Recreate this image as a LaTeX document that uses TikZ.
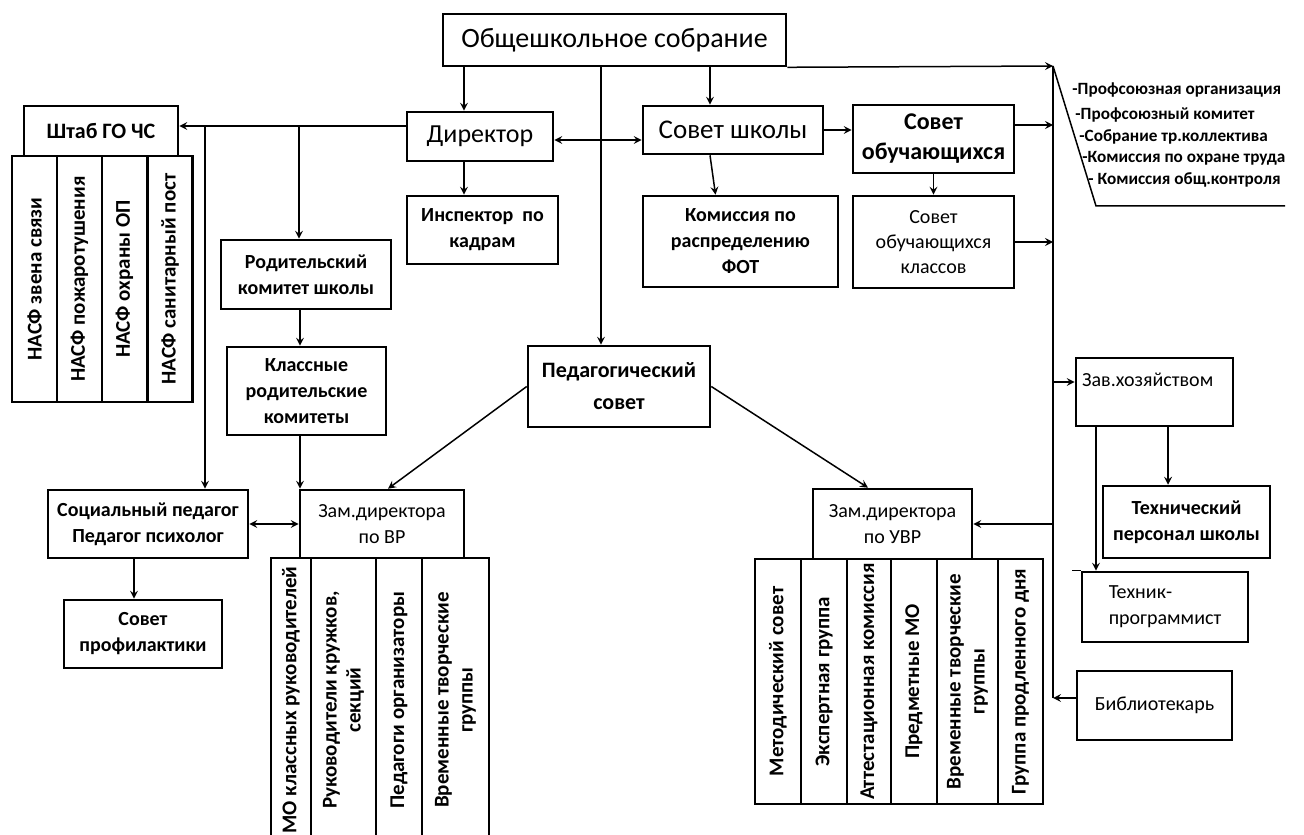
\documentclass[tikz,border=0pt]{standalone}
\usepackage{fontspec}
\setmainfont{Carlito}
\usetikzlibrary{positioning,calc}

\begin{document}
\begin{tikzpicture}[>=stealth, x=0.5pt, y=-0.5pt]

    % Styles
    \tikzset{
        box/.style={draw, line width=1.3pt, align=center, inner sep=2pt, font=\fontsize{10}{13}\selectfont},
        bbox/.style={box, font=\bfseries\fontsize{10}{13}\selectfont},
        col/.style={draw, line width=1.3pt, rotate=90, align=center, inner sep=1pt, font=\bfseries\fontsize{10.5}{12}\selectfont},
        sz/.style 2 args={minimum width=#1*0.5pt, minimum height=#2*0.5pt},
        link/.style={line width=0.75pt},
        item/.style={anchor=west, inner sep=0pt, font=\bfseries\fontsize{8.6}{10}\selectfont}
    }

    \useasboundingbox (0,0) rectangle (1304,834);

    % Top row
    \node[box, sz={343}{52}, font=\fontsize{14}{16}\selectfont] (obsh) at (614.5,40) {Общешкольное собрание};
    \node[box, sz={146}{49}, font=\fontsize{13}{16}\selectfont] (dir) at (480,136.5) {Директор};
    \node[box, sz={180}{48}, font=\fontsize{13.5}{16}\selectfont] (sovsh) at (733,130) {Совет школы};
    \node[bbox, sz={161}{68}, font=\bfseries\fontsize{12}{15}\selectfont] (sovob) at (933.5,139) {Совет\\обучающихся};
    \node[box, sz={161}{92}, font=\fontsize{10}{12.5}\selectfont] (sovobkl) at (933.5,242) {Совет\\обучающихся\\классов};
    \node[bbox, sz={151}{68}] (insp) at (482.5,230) {Инспектор~~по\\кадрам};
    \node[bbox, sz={195}{91}] (kom) at (740.5,241.5) {Комиссия по\\распределению\\ФОТ};

    % Left part
    \node[bbox, sz={154}{50}, font=\bfseries\fontsize{11}{13}\selectfont] (shtab) at (101,131) {Штаб ГО ЧС};
    \foreach \cx/\txt [count=\i] in {34.5/НАСФ звена связи, 79.5/НАСФ пожаротушения, 124.5/НАСФ охраны ОП, 170/НАСФ санитарный пост}
        \node[col, sz={246}{45}] (nasf\i) at (\cx,279) {\txt};
    \node[bbox, sz={170}{69}] (rodkom) at (306,274.5) {Родительский\\комитет школы};
    \node[bbox, sz={159}{88}] (klrod) at (306.5,391) {Классные\\родительские\\комитеты};
    \node[bbox, sz={200}{68}] (soc) at (148,524) {Социальный педагог\\Педагог психолог};
    \node[bbox, sz={158}{68}] (prof) at (143,634) {Совет\\профилактики};

    % Middle
    \node[bbox, sz={182}{81}, font=\bfseries\fontsize{11}{16}\selectfont] (ped) at (619,386.5) {Педагогический\\совет};
    \node[box, sz={164}{68}] (zamvr) at (382,524) {Зам.директора\\по ВР};
    \foreach \cx/\w/\txt [count=\i] in {291/40/МО классных руководителей, 343.5/65/{Руководители кружков,\\секций}, 399/46/Педагоги организаторы, 455.5/67/{Временные творческие\\группы}}
        \node[col, sz={284}{\w}] (vr\i) at (\cx,700) {\txt};
    \node[box, sz={159}{70}] (zamuvr) at (892.5,524) {Зам.директора\\по УВР};
    \foreach \cx/\w/\txt [count=\i] in {778/46/Методический совет, 824/46/Экспертная группа, 869/44/Аттестационная комиссия, 914/46/Предметные МО, 967.5/61/{Временные творческие\\группы}, 1020.5/45/Группа продленного дня}
        \node[col, sz={245}{\w}] (uvr\i) at (\cx,681.5) {\txt};

    % Right part
    \node[box, sz={157}{68}, label={[anchor=north west, inner sep=0pt, xshift=3.5pt, yshift=-8pt, font=\fontsize{10}{12}\selectfont]north west:Зав.хозяйством}] (zavhoz) at (1154.5,392) {};
    \node[bbox, sz={167}{72}] (tehpers) at (1186.5,522) {Технический\\персонал школы};
    \node[box, sz={166}{70}, align=left] (tehprog) at (1165,607) {Техник-\\программист};
    \node[box, sz={155}{69}] (bibl) at (1154.5,705.5) {Библиотекарь};

    % List
    \node[item] (pr1) at (1072,90) {-Профсоюзная организация};
    \node[item] (pr2) at (1075,115) {-Профсоюзный комитет};
    \node[item] (pr3) at (1079,137) {-Собрание тр.коллектива};
    \node[item] (pr4) at (1082,158) {-Комиссия по охране труда};
    \node[item] (pr5) at (1088,180) {- Комиссия общ.контроля};

    % Coordinates
    \coordinate (railtop) at (1053,66);
    \coordinate (jrod) at (299,126);
    \coordinate (jsoc) at (205,126);
    \coordinate (lstA) at (1096,206);
    \coordinate (lstB) at (1285,206);

    % From the general meeting
    \draw[link,->] ([xshift=-8pt]dir.north |- obsh.south) -- ([xshift=-8pt]dir.north);
    \draw[link,->] ([xshift=-11.5pt]sovsh.north |- obsh.south) -- ([xshift=-11.5pt]sovsh.north);
    \draw[link,->] ([xshift=-9pt]ped.north |- obsh.south) -- ([xshift=-9pt]ped.north);
    \draw[link,->] (obsh.south east) -- (railtop);
    \draw[link] (railtop) -- ([yshift=3.75pt]bibl.west -| railtop);
    \draw[link] (railtop) -- (lstA) -- (lstB);

    % Director and councils
    \draw[link,<->] ([yshift=-1.75pt]dir.east) -- ([yshift=-1.75pt]dir.east -| sovsh.west);
    \draw[link,->] (sovsh.east) -- (sovsh.east -| sovob.west);
    \draw[link,->] ([yshift=7pt]sovob.east) -- ([yshift=7pt]sovob.east -| railtop);
    \draw[link,->] (sovobkl.east) -- (sovobkl.east -| railtop);
    \draw[link,->] (sovob) -- (sovobkl);
    \draw[link,->] ([xshift=-8pt]dir.south) -- ([xshift=-8pt]dir.south |- insp.north);
    \draw[link,->] ([xshift=-11.5pt]sovsh.south) -- ([xshift=-12.5pt]kom.north);
    \draw[link,->] ([yshift=5.25pt]dir.west) -- ([yshift=5.25pt]dir.west -| shtab.east);
    \draw[link,->] (jrod) -- (jrod |- rodkom.north);
    \draw[link,->] (jsoc) -- (jsoc |- soc.north);

    % Left branch
    \draw[link,->] ([xshift=-3pt]rodkom.south) -- ([xshift=-3pt]rodkom.south |- klrod.north);
    \draw[link,->] ([xshift=-3.25pt]klrod.south) -- ([xshift=-3.25pt]klrod.south |- zamvr.north);
    \draw[link,<->] (soc.east) -- (zamvr.west);
    \draw[link,->] ([xshift=-7pt]soc.south) -- ([xshift=-7pt]soc.south |- prof.north);

    % Pedagogical council
    \draw[link,->] (ped.west) -- ([xshift=3pt]zamvr.north);
    \draw[link,->] (ped.east) -- ([xshift=-12.25pt]zamuvr.north);

    % Right branch
    \draw[link,->] ([yshift=5pt]zavhoz.west -| railtop) -- ([yshift=5pt]zavhoz.west);
    \draw[link,->] (zamuvr.east -| railtop) -- (zamuvr.east);
    \draw[link,->] ([yshift=3.75pt]bibl.west) -- ([yshift=3.75pt]bibl.west -| railtop);
    \draw[link,->] ([xshift=-9.25pt]tehpers.north |- zavhoz.south) -- ([xshift=-9.25pt]tehpers.north);
    \draw[link,->] ([xshift=-34.5pt]tehprog.north |- zavhoz.south) -- ([xshift=-34.5pt]tehprog.north);
    \draw[link] (tehprog.north west) -- ++(-9,0);

\end{tikzpicture}
\end{document}
